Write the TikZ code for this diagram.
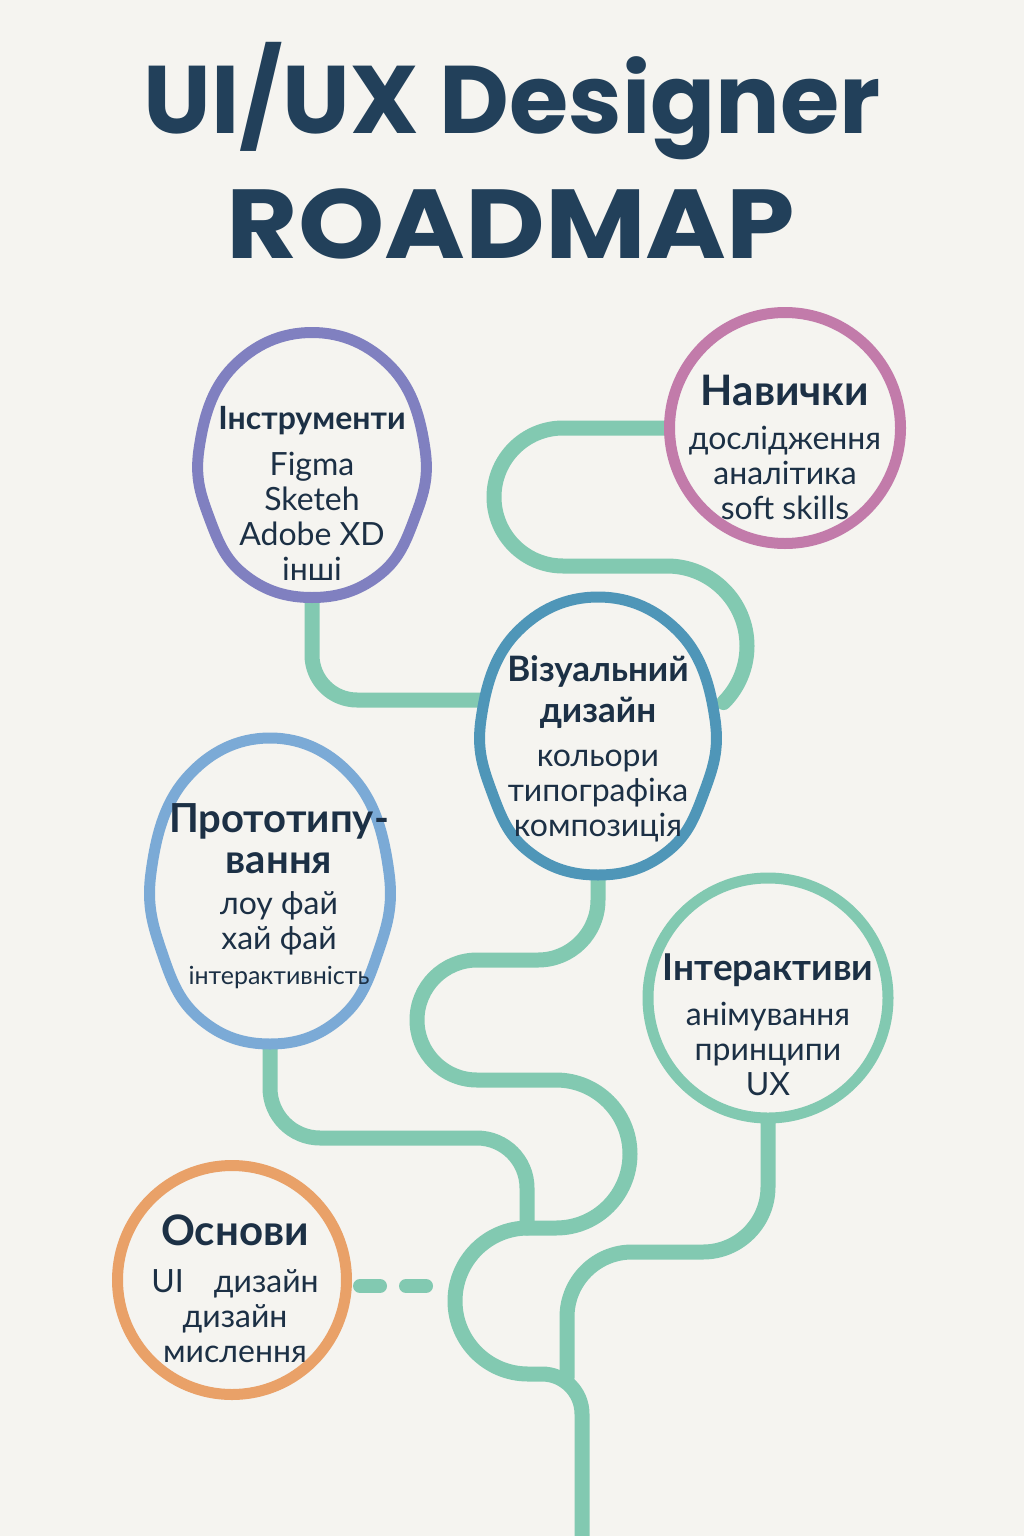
\documentclass[tikz,border=0pt]{standalone}
\usepackage{fontspec}
\setmainfont{Lato}
\newfontfamily\titlefont{Poppins}

\definecolor{paper}{HTML}{F5F4F0}
\definecolor{ink}{HTML}{1C3045}
\definecolor{titleblue}{HTML}{22405A}
\definecolor{roadgreen}{HTML}{82C9B1}
\definecolor{toolpurple}{HTML}{8080C0}
\definecolor{skillpink}{HTML}{C27BAA}
\definecolor{visualblue}{HTML}{4F96B8}
\definecolor{protoblue}{HTML}{7BAAD6}
\definecolor{basicorange}{HTML}{E9A168}

\pgfdeclarelayer{paper}
\pgfdeclarelayer{roads}
\pgfsetlayers{paper,roads,main}

% голова-контур навколо вузла
\newcommand{\headblob}[4]{%
  \draw[blobline=#4, shift={(#1.center)}, xscale=#2, yscale=#3]
    plot[smooth cycle, tension=0.7] coordinates {(0,-1) (0.7,-0.74) (1,-0.12)
      (0.9,0.42) (0.58,0.84) (0,1) (-0.58,0.84) (-0.9,0.42) (-1,-0.12) (-0.7,-0.74)};}
\newcommand{\hd}[1]{\fontsize{#1}{#1}\selectfont\bfseries}

\begin{document}
\begin{tikzpicture}[
        x=1pt, y=-1pt,
        road/.style={draw=roadgreen, line width=15pt, line cap=round},
        ring/.style={
            circle,
            draw=#1,
            fill=paper,
            line width=11pt,
            inner sep=0pt,
            outer sep=0pt
        },
        blobline/.style={draw=#1, fill=paper, line width=11pt},
        headspot/.style={rectangle, inner sep=0pt, outer sep=0pt},
        txt/.style={align=center, text=ink, inner sep=0pt, font=\fontsize{32}{35}\selectfont},
        titletxt/.style={text=titleblue, inner sep=0pt, font=\titlefont\bfseries\fontsize{96}{96}\selectfont}
    ]

    \useasboundingbox (0,0) rectangle (1024,1536);
    \begin{pgfonlayer}{paper}
        \fill[paper] (0,0) rectangle (1024,1536);
    \end{pgfonlayer}

    % Заголовок
    \node[titletxt, anchor=base] (title1) at (512,133) {UI/UX Designer};
    \node[titletxt, anchor=base] (title2) at (511,258) {\scalebox{1.12}[1]{\fontsize{98}{98}\selectfont ROADMAP}};

    % Вузли
    \node[headspot, minimum width=226pt, minimum height=265pt] (tools)  at (312,465) {};
    \node[headspot, minimum width=234pt, minimum height=278pt] (visual) at (598,736) {};
    \node[headspot, minimum width=238pt, minimum height=306pt] (proto)  at (270,891) {};
    \node[ring=skillpink,   minimum size=231pt] (skills) at (785,428)  {};
    \node[ring=roadgreen,   minimum size=240pt] (inter)  at (768,998)  {};
    \node[ring=basicorange, minimum size=229pt] (basics) at (232,1280) {};

    \headblob{tools}{113}{132.5}{toolpurple}
    \headblob{visual}{117}{139}{visualblue}
    \headblob{proto}{119}{153}{protoblue}

    % Тексти
    \node[txt] (toolstxt)  at (312,493)  {{\hd{32}Інструменти}\\[11pt]Figma\\Sketeh\\Adobe XD\\інші};
    \node[txt] (skillstxt) at (785,447)  {{\hd{42}Навички}\\[9pt]дослідження\\аналітика\\soft skills};
    \node[txt] (visualtxt) at (598,749)  {{\hd{35}Візуальний}\\[6pt]{\hd{35}дизайн}\\[9pt]кольори\\типографіка\\композиція};
    \node[txt] (prototxt)  at (279,896)  {{\hd{40}Прототипу-}\\[6pt]{\hd{40}вання}\\[6pt]лоу фай\\хай фай\\{\fontsize{25}{25}\selectfont інтерактивність}};
    \node[txt] (intertxt)  at (768,1025) {{\hd{37}Інтерактиви}\\[10pt]анімування\\принципи\\UX};
    \node[txt] (basicstxt) at (235,1289) {{\hd{42}Основи}\\[12pt]UI\hskip 30pt дизайн\\дизайн\\мислення};

    % Дороги
    \begin{pgfonlayer}{roads}
        \draw[road, rounded corners=45] (tools.south) |- (482,700);
        \draw[road] (skills.west) -- (563,428)
            arc[start angle=270, end angle=90, radius=69] -- (667,566)
            arc[start angle=270, end angle=405, radius=80];
        \draw[road] (visual.south) -- (598,900)
            arc[start angle=0, end angle=90, radius=60] -- (477,960)
            arc[start angle=270, end angle=90, radius=60] -- (556,1080)
            arc[start angle=270, end angle=450, radius=74] -- (528,1228)
            arc[start angle=270, end angle=90, radius=73]
            [rounded corners=40] -| (582,1536);
        \draw[road, rounded corners=50] (proto.south) |- (527,1138) -- (527,1228);
        \draw[road, rounded corners=65] (inter.south) |- (567,1252) -- (567,1378);
        \draw[road, line width=14pt, dash pattern=on 20pt off 26pt]
            ([xshift=13.5pt, yshift=-6pt]basics.east) -- ++(92,0);
    \end{pgfonlayer}

\end{tikzpicture}
\end{document}
